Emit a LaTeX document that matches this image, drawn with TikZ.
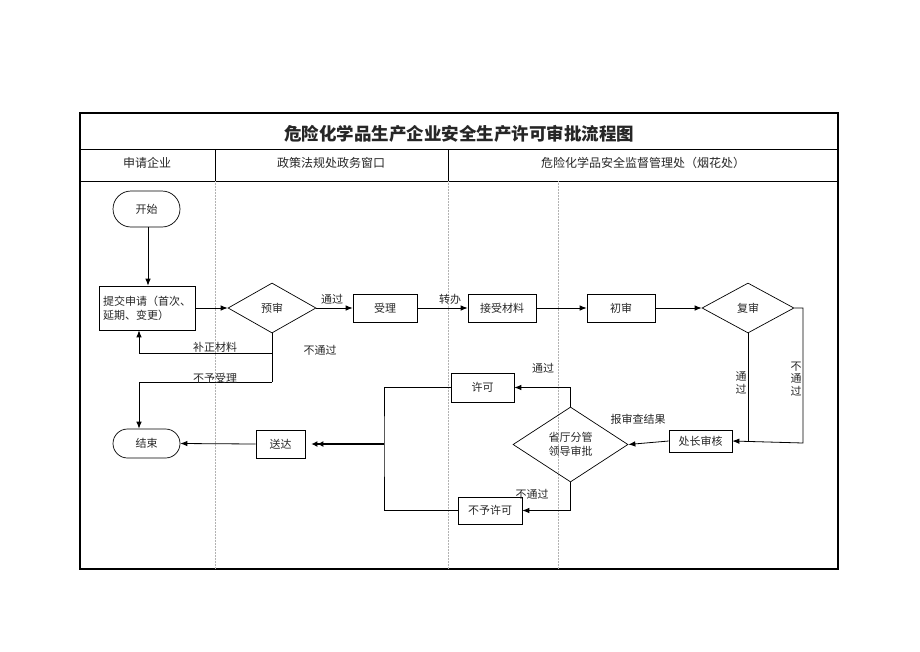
\documentclass[tikz,border=0pt]{standalone}
\usepackage{fontspec}
\setmainfont{Noto Sans CJK SC}
\usetikzlibrary{arrows.meta,shapes.geometric,shapes.misc}
\begin{document}
\begin{tikzpicture}[x=1pt,y=-1pt,
  every node/.style={font=\fontsize{11}{14}\selectfont, text=black!85},
  box/.style={draw, rectangle, inner sep=0pt, line width=0.7pt},
  term/.style={draw, rounded rectangle, inner sep=0pt, line width=0.7pt},
  dia/.style={draw, diamond, inner sep=0pt, line width=0.7pt},
  arr/.style={-{Latex[length=7pt,width=5.5pt]}, line width=0.8pt},
  ln/.style={line width=0.8pt},
  darr/.style={-{Latex[length=6pt,width=6pt]Latex[length=6pt,width=6pt]}, line width=1.3pt},
  lab/.style={inner sep=1pt},
  grid/.style={densely dotted, gray!60, line width=0.5pt}]
\useasboundingbox (0,0) rectangle (920,651);
% frame
\draw[line width=1.1pt] (80,113) rectangle (838,569);
\draw[line width=0.8pt] (80,149) -- (838,149);
\draw[line width=0.8pt] (80,181) -- (838,181);
\draw[line width=0.8pt] (215,149) -- (215,181);
\draw[line width=0.8pt] (448,149) -- (448,181);
\draw[grid] (215,181) -- (215,569);
\draw[grid] (448,181) -- (448,569);
\draw[grid] (558,181) -- (558,569);
\node[font=\fontsize{17.5}{20}\selectfont\bfseries] (title) at (459,134) {危险化学品生产企业安全生产许可审批流程图};
\node[font=\fontsize{12}{14}\selectfont] (h1) at (147,163) {申请企业};
\node[font=\fontsize{12}{14}\selectfont] (h2) at (331,163) {政策法规处政务窗口};
\node[font=\fontsize{12}{14}\selectfont] (h3) at (643,163) {危险化学品安全监督管理处（烟花处）};
% nodes
\node[term, minimum width=67pt, minimum height=36pt] (start) at (146.5,209) {开始};
\node[box, minimum width=96pt, minimum height=44pt, align=left] (submit) at (147,308) {提交申请（首次、\\延期、变更）};
\node[dia, minimum width=88pt, minimum height=50pt] (pre) at (272,308) {预审};
\node[box, minimum width=64pt, minimum height=28pt] (accept) at (385,308) {受理};
\node[box, minimum width=68pt, minimum height=28pt] (recv) at (502,308) {接受材料};
\node[box, minimum width=68pt, minimum height=28pt] (init) at (621,308) {初审};
\node[dia, minimum width=92pt, minimum height=50pt] (rev) at (748,308) {复审};
\node[box, minimum width=63pt, minimum height=22pt] (head) at (700.5,441) {处长审核};
\node[dia, minimum width=115pt, minimum height=75pt, align=center] (prov) at (570.5,444.5) {省厅分管\\领导审批};
\node[box, minimum width=63pt, minimum height=29pt] (permit) at (482.5,387.5) {许可};
\node[box, minimum width=64pt, minimum height=27pt] (deny) at (490,510.5) {不予许可};
\node[box, minimum width=49pt, minimum height=28pt] (send) at (280.5,444) {送达};
\node[term, minimum width=67pt, minimum height=29pt] (end) at (146.5,443.5) {结束};
% coordinates
\coordinate (c4) at (272,353);
\coordinate (c5) at (272,382);
\coordinate (c3) at (803,443);
\coordinate (j) at (384,444);
% connectors
\draw[arr] (start.south -| 148,0) -- (submit.north -| 148,0);
\draw[arr] (submit.east) -- (pre.west);
\draw[arr] (pre.east) -- (accept.west);
\node[lab] (l1) at (332,299) {通过};
\draw[arr] (accept.east) -- (recv.west);
\node[lab] (l2) at (450,299) {转办};
\draw[arr] (recv.east) -- (init.west);
\draw[arr] (init.east) -- (rev.west);
\draw[arr] (rev.east) -| (c3) -- (head.east);
\draw[ln] (rev.south) -- (rev.south |- head.east);
\node[lab, align=center, font=\fontsize{11}{12.5}\selectfont] (l3) at (741,383) {通\\过};
\node[lab, align=center, font=\fontsize{11}{12.5}\selectfont] (l4) at (796,379) {不\\通\\过};
\draw[arr] (head.west) -- (prov.east);
\node[lab] (l5) at (638,419) {报审查结果};
\draw[arr] (prov.north) |- (permit.east);
\node[lab] (l6) at (543,368) {通过};
\draw[arr] (prov.south) |- (deny.east);
\node[lab] (l7) at (532,494) {不通过};
\draw[ln] (permit.west) -| (j) |- (deny.west);
\draw[darr] (j) -- ([xshift=6pt]send.east);
\draw[arr] (send.west) -- (end.east);
\draw[ln] (pre.south) -- (c5);
\draw[arr] (c4) -| ([xshift=-8pt]submit.south);
\draw[arr] (c5) -| ([xshift=-7.5pt]end.north);
\node[lab] (l8) at (215,347) {补正材料};
\node[lab] (l9) at (215,378) {不予受理};
\node[lab] (l10) at (320,350) {不通过};
\end{tikzpicture}
\end{document}
